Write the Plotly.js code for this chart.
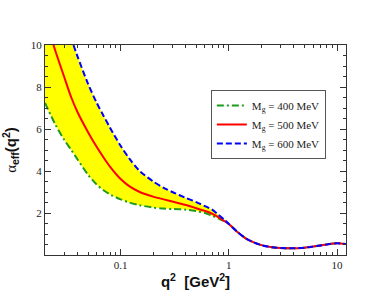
<!DOCTYPE html>
<html>
<head>
<meta charset="utf-8">
<script src="https://cdn.plot.ly/plotly-3.0.1.min.js"></script>
<style>body{margin:0;padding:0;background:#fff;} #chart{width:389px;height:301px;}</style>
</head>
<body>
<div id="chart"></div>
<script>
// q^2 in GeV^2
var q2 = [0.02, 0.025, 0.03, 0.035, 0.04, 0.05, 0.06, 0.07, 0.08, 0.1, 0.12, 0.15, 0.2, 0.25, 0.3, 0.4, 0.5, 0.6, 0.7, 0.8, 0.9, 1.0, 1.2, 1.5, 2, 2.5, 3, 4, 5, 6, 7, 8, 10, 12];
// M_g = 400 MeV
var alpha400 = [7.24, 6.2, 5.5, 5.0, 4.55, 3.82, 3.36, 3.07, 2.88, 2.65, 2.5, 2.37, 2.26, 2.21, 2.19, 2.16, 2.09, 2.0, 1.87, 1.74, 1.62, 1.48, 1.1, 0.73, 0.47, 0.37, 0.33, 0.32, 0.35, 0.40, 0.45, 0.50, 0.56, 0.52];
// M_g = 500 MeV
var alpha500 = [11.3, 9.7, 8.5, 7.5, 6.8, 5.85, 5.15, 4.62, 4.2, 3.62, 3.28, 3.0, 2.78, 2.65, 2.55, 2.38, 2.23, 2.10, 1.97, 1.80, 1.63, 1.48, 1.1, 0.73, 0.47, 0.37, 0.33, 0.32, 0.35, 0.40, 0.45, 0.50, 0.56, 0.52];
// M_g = 600 MeV
var alpha600 = [14.5, 12.8, 11.4, 10.3, 9.45, 8.15, 7.25, 6.6, 6.05, 5.2, 4.6, 4.0, 3.5, 3.2, 3.0, 2.72, 2.52, 2.33, 2.16, 1.92, 1.70, 1.48, 1.1, 0.73, 0.47, 0.37, 0.33, 0.32, 0.35, 0.40, 0.45, 0.50, 0.56, 0.52];

var names = ['M<sub>g</sub> = 400 MeV', 'M<sub>g</sub> = 500 MeV', 'M<sub>g</sub> = 600 MeV'];
var yTickVals = [0, 2, 4, 6, 8, 10];
var yTickText = ['', '2', '4', '6', '8', '10'];
var xTickVals = [0.1, 1, 10];
var xTickText = ['0.1', '1', '10'];

var green = '#1f9a1f', red = '#ff0000', blue = '#0000ff';
var lineShape = {shape: 'spline', smoothing: 0.8};
function ln(o) { return Object.assign({}, lineShape, o); }

var traces = [
  {x: q2, y: alpha400, mode: 'lines', line: ln({width: 0, color: green}), showlegend: false, hoverinfo: 'skip'},
  {x: q2, y: alpha600, mode: 'lines', line: ln({width: 0, color: blue}), fill: 'tonexty', fillcolor: '#ffff00', showlegend: false, hoverinfo: 'skip'},
  {x: q2, y: alpha400, mode: 'lines', name: names[0], line: ln({color: green, width: 2, dash: '7px,3px,2px,3px'})},
  {x: q2, y: alpha500, mode: 'lines', name: names[1], line: ln({color: red, width: 2})},
  {x: q2, y: alpha600, mode: 'lines', name: names[2], line: ln({color: blue, width: 2, dash: '6px,3px'})}
];

var tickFont = {family: 'Liberation Serif, serif', size: 11, color: '#222'};

var layout = {
  width: 389, height: 301,
  margin: {l: 45, r: 43, t: 45, b: 46},
  paper_bgcolor: '#fff', plot_bgcolor: '#fff',
  showlegend: true,
  legend: {
    x: 0.551, y: 0.786, xanchor: 'left', yanchor: 'top',
    traceorder: 'normal',
    itemwidth: 30,
    bgcolor: '#fff', bordercolor: '#555', borderwidth: 1,
    font: {family: 'Liberation Serif, serif', size: 11, color: '#222'},
    tracegroupgap: 0
  },
  xaxis: {
    type: 'log', range: [Math.log10(0.02), Math.log10(12.1)],
    tickmode: 'array', tickvals: xTickVals, ticktext: xTickText,
    ticks: 'inside', ticklen: 6, tickcolor: '#333', tickwidth: 1,
    minor: {ticks: 'inside', ticklen: 3, tickcolor: '#333', dtick: 'D1', showgrid: false},
    showline: true, linecolor: '#333', linewidth: 1, mirror: 'ticks',
    showgrid: false, zeroline: false,
    tickfont: tickFont,
    title: {text: '<b>q<sup>2</sup>  [GeV<sup>2</sup>]</b>', font: {family: 'Liberation Sans, Arial, sans-serif', size: 15, color: '#111'}, standoff: 0}
  },
  yaxis: {
    range: [0, 10],
    tickmode: 'array', tickvals: yTickVals, ticktext: yTickText,
    ticks: 'inside', ticklen: 6, tickcolor: '#333', tickwidth: 1,
    minor: {ticks: 'inside', ticklen: 3, tickcolor: '#333', tickmode: 'linear', tick0: 0, dtick: 0.5, showgrid: false},
    showline: true, linecolor: '#333', linewidth: 1, mirror: 'ticks',
    showgrid: false, zeroline: false,
    tickfont: tickFont,
    title: {text: '<span style="font-family:Liberation Serif,serif;font-weight:normal">α</span><b><sub>eff</sub>(q<sup>2</sup>)</b>', font: {family: 'Liberation Sans, Arial, sans-serif', size: 15, color: '#111'}, standoff: 10}
  }
};

Plotly.newPlot('chart', traces, layout, {displayModeBar: false, staticPlot: true});
</script>
</body>
</html>
